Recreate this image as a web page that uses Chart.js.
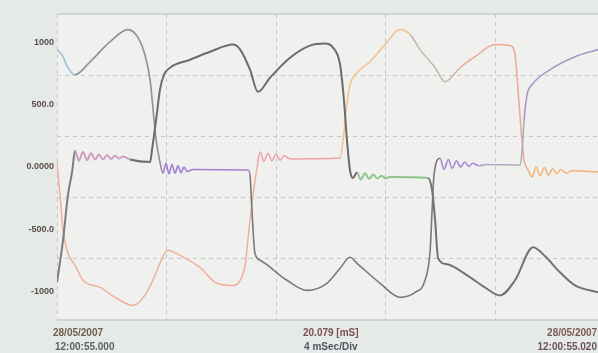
<!DOCTYPE html>
<html lang="en">
<head>
<meta charset="UTF-8">
<title>Phase currents</title>
<script src="https://cdn.jsdelivr.net/npm/chart.js@4.4.1/dist/chart.umd.min.js"></script>
<style>
  html, body { margin: 0; padding: 0; background: #e6eae7; }
  #wrap { width: 598px; height: 353px; }
</style>
</head>
<body>
<div id="wrap"><canvas id="scope"></canvas></div>
<script>
// time in ms, current in A
const phaseA_t = [0, 0.22, 0.40, 0.55, 0.66, 0.80, 0.95, 1.10, 1.24, 1.39, 1.53, 1.68, 1.83, 1.97, 2.12, 2.26, 2.41, 2.67, 3.40,
  3.47, 3.62, 3.76, 3.91, 4.13, 4.86, 5.59, 6.43, 6.69, 7.05, 7.34, 7.78, 8.51, 9.24, 9.79, 10.08, 10.34, 10.48, 10.59, 10.70, 10.81,
  10.96, 11.10, 11.25, 11.40, 11.55, 11.70, 11.85, 12.00, 12.16, 13.55, 13.70, 13.81, 13.92, 14.25, 14.98, 15.63, 16.18, 16.73,
  17.39, 17.83, 18.37, 18.92, 19.76];
const phaseA_i = [-923, -586, -225, -40, 130, 50, 120, 55, 110, 60, 100, 62, 95, 65, 90, 68, 85, 60, 40,
  137, 377, 618, 739, 795, 859, 923, 980, 940, 779, 602, 715, 875, 972, 988, 956, 819, 538, 217, -24, -88,
  -45, -100, -50, -95, -60, -92, -70, -90, -80, -88, -185, -426, -731, -779, -867, -964, -1028, -907,
  -642, -715, -843, -948, -1004];

const phaseB_t = [0, 0.11, 0.22, 0.40, 0.66, 0.95, 1.57, 2.12, 2.78, 3.21, 3.58, 3.87, 4.05, 4.49, 5.22, 5.84, 6.43, 6.69, 6.87,
  7.01, 7.16, 7.31, 7.42, 7.56, 7.70, 7.85, 8.00, 8.15, 8.30, 8.51, 10.34, 10.45, 10.56, 10.70, 10.89, 11.43, 11.98, 12.53,
  12.90, 13.26, 13.81, 14.17, 14.72, 15.27, 16.00, 16.55, 16.73, 16.84, 16.95, 17.06, 17.21, 17.35, 17.50, 17.65, 17.80,
  17.95, 18.10, 18.25, 18.40, 18.60, 18.80, 19.76];
const phaseB_i = [40, -225, -506, -691, -787, -907, -964, -1044, -1108, -1028, -867, -715, -666, -707, -803, -931, -948, -907, -787,
  -506, -225, 0, 120, 45, 110, 50, 100, 55, 90, 65, 72, 217, 458, 658, 739, 843, 980, 1100,
  1060, 940, 795, 683, 795, 883, 980, 972, 899, 618, 297, 56, -24, -80, 0, -70, -5,
  -65, -15, -55, -20, -50, -30, -40];

const phaseC_t = [0, 0.18, 0.40, 0.66, 1.21, 1.94, 2.59, 2.96, 3.21, 3.40, 3.51, 3.62, 3.76, 3.87, 3.98, 4.09, 4.20, 4.31, 4.42,
  4.53, 4.64, 4.75, 4.97, 6.98, 7.05, 7.12, 7.23, 7.42, 8.40, 9.13, 9.86, 10.34, 10.70, 10.96, 11.80, 12.53, 13.08, 13.44,
  13.63, 13.70, 13.77, 13.99, 14.14, 14.29, 14.44, 14.59, 14.74, 14.89, 15.04, 15.19, 15.40, 15.70, 16.91, 16.99, 17.06,
  17.17, 17.35, 18.01, 18.92, 19.76];
const phaseC_i = [940, 899, 795, 739, 843, 1004, 1100, 1036, 899, 699, 458, 217, 40, -50, 30, -55, 20, -50, 10,
  -45, 0, -35, -20, -24, -64, -345, -691, -747, -907, -988, -931, -811, -723, -771, -931, -1044, -1004, -907,
  -666, -345, -64, 70, -20, 60, -10, 50, 0, 40, 5, 30, 10, 20, 16, 137, 377,
  578, 658, 779, 883, 940];

const yTicks = [1000, 500, 0, -500, -1000];
const yTickLabels = ['1000', '500.0', '0.0000', '-500.0', '-1000'];
const xLeftLabel = ['28/05/2007', '12:00:55.000'];
const xMidLabel = ['20.079 [mS]', '4 mSec/Div'];
const xRightLabel = ['28/05/2007', '12:00:55.020'];

// trace colour changes along time (ms end of each stretch, colour)
const colorsA = [[0.6, '#7d7d7d'], [2.6, '#cf9cc0'], [10.85, '#6c6c6c'], [12.2, '#8fc48f'], [99, '#727272']];
const colorsB = [[7.3, '#eeb09c'], [8.6, '#f0a0a8'], [12.9, '#f4bf8c'], [14.4, '#c9b5aa'], [17.2, '#f0a595'], [99, '#f3b27a']];
const colorsC = [[0.6, '#9cc3dc'], [3.8, '#8e9096'], [5.0, '#a07ed6'], [7.0, '#9a90b0'], [13.8, '#7a7a7a'], [15.3, '#a58ad8'], [17.0, '#b0a8c0'], [99, '#a898c8']];

function pts(ts, vs) {
    return ts.map((t, k) => ({ x: t, y: vs[k] }));
}

function colorAt(stops) {
    return ctx => {
        const t = ctx.p0.parsed.x;
        for (const s of stops) {
            if (t < s[0]) return s[1];
        }
        return stops[stops.length - 1][1];
    };
}

function trace(ts, vs, stops, width) {
    return {
        data: pts(ts, vs),
        borderColor: stops[0][1],
        borderWidth: width,
        pointRadius: 0,
        fill: false,
        cubicInterpolationMode: 'monotone',
        segment: { borderColor: colorAt(stops) }
    };
}

const scopeDecor = {
    id: 'scopeDecor',
    beforeDraw(chart) {
        const { ctx, chartArea: a } = chart;
        ctx.save();
        ctx.fillStyle = '#e6eae7';
        ctx.fillRect(0, 0, chart.width, chart.height);
        ctx.fillStyle = '#f0f1ef';
        ctx.fillRect(a.left, a.top, a.right - a.left, a.bottom - a.top);
        ctx.restore();
    },
    afterDraw(chart) {
        const { ctx, chartArea: a, scales } = chart;
        ctx.save();
        // frame top / bottom
        ctx.strokeStyle = '#c9ccc9';
        ctx.lineWidth = 1.5;
        ctx.beginPath();
        ctx.moveTo(a.left, a.top); ctx.lineTo(a.right, a.top);
        ctx.moveTo(a.left, a.bottom); ctx.lineTo(a.right, a.bottom);
        ctx.stroke();

        // y labels
        ctx.font = 'bold 9px "Liberation Sans"';
        ctx.fillStyle = '#5a4d4d';
        ctx.textAlign = 'right';
        ctx.textBaseline = 'middle';
        yTicks.forEach((v, k) => {
            ctx.fillText(yTickLabels[k], a.left - 3, scales.y.getPixelForValue(v));
        });

        // time labels under the screen
        ctx.font = 'bold 10px "Liberation Sans"';
        const l1 = a.bottom + 13, l2 = a.bottom + 27;
        ctx.textAlign = 'left';
        ctx.fillStyle = '#6b5f4a';
        ctx.fillText(xLeftLabel[0], a.left - 4, l1);
        ctx.fillStyle = '#5d6066';
        ctx.fillText(xLeftLabel[1], a.left - 2, l2);

        const mid = scales.x.getPixelForValue(10.0);
        ctx.textAlign = 'center';
        ctx.fillStyle = '#7a4f50';
        ctx.fillText(xMidLabel[0], mid, l1);
        ctx.fillStyle = '#4f5560';
        ctx.fillText(xMidLabel[1], mid, l2);

        ctx.textAlign = 'left';
        ctx.fillStyle = '#7b5a55';
        ctx.fillText(xRightLabel[0], scales.x.getPixelForValue(17.9), l1);
        ctx.fillStyle = '#6a5060';
        ctx.fillText(xRightLabel[1], scales.x.getPixelForValue(17.55), l2);
        ctx.restore();
    }
};

new Chart(document.getElementById('scope'), {
    type: 'line',
    data: {
        datasets: [
            trace(phaseA_t, phaseA_i, colorsA, 2.0),
            trace(phaseC_t, phaseC_i, colorsC, 1.6),
            trace(phaseB_t, phaseB_i, colorsB, 1.5)
        ]
    },
    options: {
        responsive: true,
        maintainAspectRatio: false,
        animation: false,
        layout: { padding: { left: 57, top: 14, right: 0, bottom: 33 } },
        plugins: { legend: { display: false }, tooltip: { enabled: false } },
        scales: {
            x: {
                type: 'linear',
                min: 0,
                max: 19.76,
                ticks: { stepSize: 4, display: false },
                grid: {
                    drawTicks: false,
                    color: ctx => ctx.tick.value > 19 ? 'transparent' : '#c4c7c4'
                },
                border: { display: false, dash: [4, 4] }
            },
            y: {
                min: -1225,
                max: 1225,
                ticks: { stepSize: 500, display: false },
                grid: {
                    drawTicks: false,
                    color: ctx => Math.abs(ctx.tick.value) > 1100 ? 'transparent' : '#c4c7c4'
                },
                border: { display: false, dash: [4, 4] }
            }
        }
    },
    plugins: [scopeDecor]
});
</script>
</body>
</html>
